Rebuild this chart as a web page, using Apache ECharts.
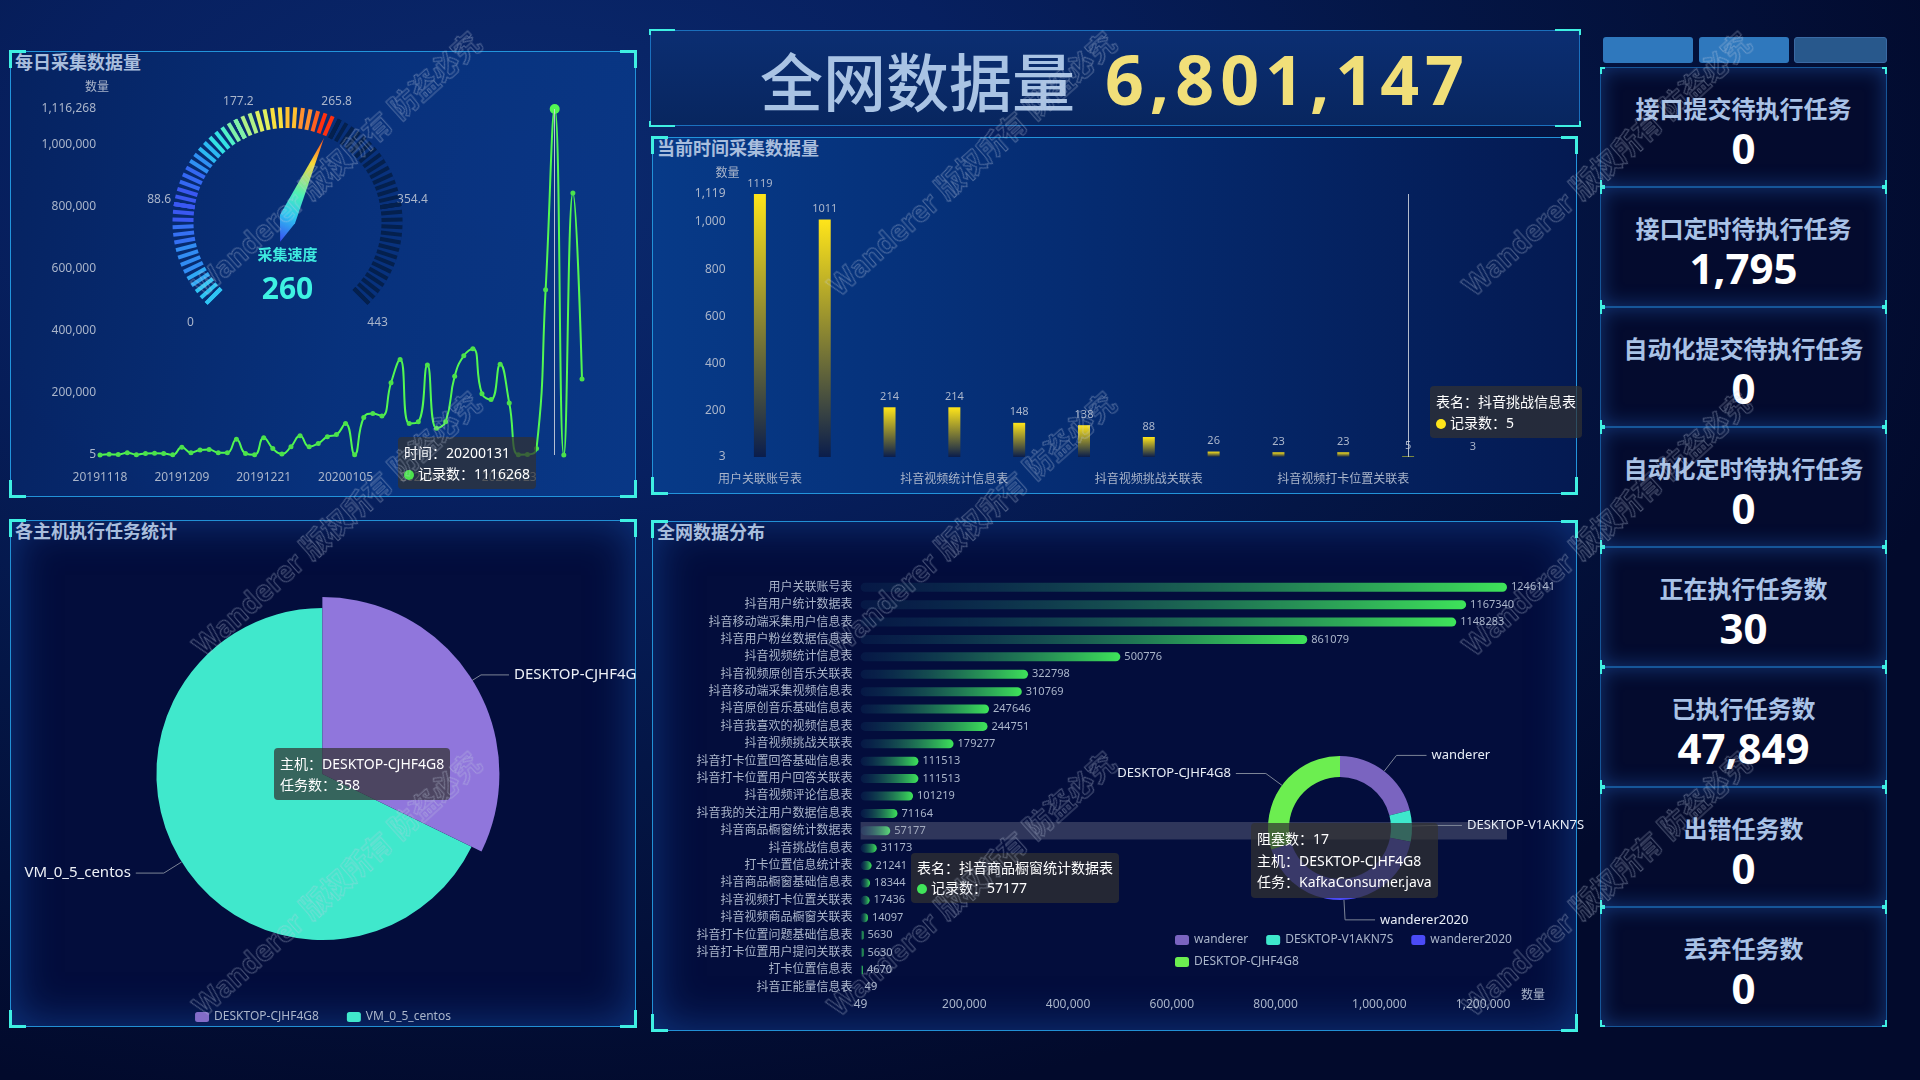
<!DOCTYPE html>
<html lang="zh">
<head>
<meta charset="utf-8">
<title>数据采集大屏</title>
<script src="https://cdn.jsdelivr.net/npm/echarts/dist/echarts.min.js"></script>
<style>
*{box-sizing:border-box;}
html,body{margin:0;padding:0;width:1920px;height:1080px;overflow:hidden;}
body{position:relative;font-family:'Noto Sans','Noto Sans CJK SC',sans-serif;
 background:radial-gradient(ellipse 1500px 950px at 520px 180px,#0b2a6e 0%,#072060 32%,#041646 62%,#020a2c 100%);}
.frame{position:absolute;border:1px solid rgba(38,158,230,0.9);z-index:0;}
.frame>i{position:absolute;width:17px;height:18px;border:0 solid #3ff0e2;}
.frame>.c1{left:-2px;top:-2px;border-left-width:3px;border-top-width:3px;}
.frame>.c2{right:-2px;top:-2px;border-right-width:3px;border-top-width:3px;}
.frame>.c3{left:-2px;bottom:-2px;border-left-width:3px;border-bottom-width:3px;}
.frame>.c4{right:-2px;bottom:-2px;border-right-width:3px;border-bottom-width:3px;}
.ptitle{position:absolute;left:4px;top:-3px;font-size:18px;font-weight:700;color:#a9bedd;font-family:'Noto Sans CJK SC',sans-serif;line-height:24px;z-index:3;}
.p1{background:linear-gradient(100deg,rgba(6,34,96,0.95) 0%,rgba(8,50,126,0.95) 55%,rgba(9,56,136,0.95) 100%);}
.p3{background:linear-gradient(90deg,#073a88 0%,#052c72 45%,#041a52 100%);}
.pb{background:#030d3c;box-shadow:inset 0 0 45px rgba(22,84,175,0.6);}
.chart{position:absolute;z-index:2;}
.tbox{position:absolute;left:650px;top:30px;width:930px;height:96px;border:1px solid rgba(30,125,205,0.85);
 background:linear-gradient(180deg,#0b2e72,#08265f);z-index:0;}
.tbox>i{position:absolute;width:26px;height:6px;border:0 solid #3ff0e2;}
.tbox>.c1{left:-2px;top:-2px;border-left-width:2px;border-top-width:2px;}
.tbox>.c2{right:-2px;top:-2px;border-right-width:2px;border-top-width:2px;}
.tbox>.c3{left:-2px;bottom:-2px;border-left-width:2px;border-bottom-width:2px;}
.tbox>.c4{right:-2px;bottom:-2px;border-right-width:2px;border-bottom-width:2px;}
.bigtitle{position:absolute;left:0;right:0;top:0;bottom:0;display:flex;align-items:center;justify-content:center;}
.bt1{font-size:63px;color:#a9c3e4;font-family:'Noto Sans CJK SC',sans-serif;font-weight:500;}
.bt2{margin-left:30px;font-size:68px;font-weight:700;color:#f1df79;letter-spacing:6px;font-family:'Noto Sans',sans-serif;}
.btn{position:absolute;top:37px;height:26px;border-radius:3px;}
.card{position:absolute;left:1600px;width:287px;height:120px;border:1px solid rgba(28,112,190,0.75);
 background:#040b2e;box-shadow:inset 0 0 20px rgba(40,110,210,0.45);}
.card>i{position:absolute;width:5px;height:7px;border:0 solid #3ff0e2;}
.card>.c1{left:-1px;top:-1px;border-left-width:2px;border-top-width:2px;}
.card>.c2{right:-1px;top:-1px;border-right-width:2px;border-top-width:2px;}
.card>.c3{left:-1px;bottom:-1px;border-left-width:2px;border-bottom-width:2px;}
.card>.c4{right:-1px;bottom:-1px;border-right-width:2px;border-bottom-width:2px;}
.card .t{position:absolute;left:0;right:0;top:26px;text-align:center;font-size:24px;font-weight:700;color:#a9c2e6;line-height:28px;font-family:'Noto Sans CJK SC',sans-serif;}
.card .v{position:absolute;left:0;right:0;top:54px;text-align:center;font-size:42px;font-weight:700;color:#fff;line-height:52px;font-family:'Noto Sans',sans-serif;}
.wm{position:absolute;z-index:10;pointer-events:none;white-space:nowrap;font-size:28px;font-weight:700;color:transparent;
 -webkit-text-stroke:1px rgba(195,205,225,0.38);font-family:'Noto Sans','Noto Sans CJK SC',sans-serif;transform:translate(-50%,-50%) rotate(-42deg);}
</style>
</head>
<body>
<div class="frame p1" style="left:10px;top:51px;width:626px;height:446px"><i class="c1"></i><i class="c2"></i><i class="c3"></i><i class="c4"></i><div class="ptitle">每日采集数据量</div></div>
<div class="tbox"><i class="c1"></i><i class="c2"></i><i class="c3"></i><i class="c4"></i><div class="bigtitle"><span class="bt1">全网数据量</span><span class="bt2" id="total"></span></div></div>
<div class="frame p3" style="left:652px;top:137px;width:925px;height:357px"><i class="c1"></i><i class="c2"></i><i class="c3"></i><i class="c4"></i><div class="ptitle">当前时间采集数据量</div></div>
<div class="frame pb" style="left:10px;top:520px;width:626px;height:507px"><i class="c1"></i><i class="c2"></i><i class="c3"></i><i class="c4"></i><div class="ptitle">各主机执行任务统计</div></div>
<div class="frame pb" style="left:652px;top:521px;width:925px;height:510px"><i class="c1"></i><i class="c2"></i><i class="c3"></i><i class="c4"></i><div class="ptitle">全网数据分布</div></div>

<div class="btn" style="left:1603px;width:90px;background:#2f78bd"></div>
<div class="btn" style="left:1699px;width:90px;background:#2f78bd"></div>
<div class="btn" style="left:1794px;width:93px;background:#28588c;border:1px solid #3a6aa4"></div>
<div id="cards"></div>

<div id="cA" class="chart" style="left:10px;top:51px;width:626px;height:445px"></div>
<div id="cB" class="chart" style="left:652px;top:137px;width:925px;height:357px"></div>
<div id="cC" class="chart" style="left:652px;top:521px;width:925px;height:510px"></div>
<div id="cD" class="chart" style="left:1100px;top:730px;width:500px;height:260px"></div>
<div id="cE" class="chart" style="left:10px;top:520px;width:626px;height:507px"></div>
<div id="wms"></div>

<script>
// ---------- data ----------
const dailyDates = ['20191118','20191119','20191120','20191122','20191125','20191127','20191129','20191202','20191205',
 '20191209','20191210','20191211','20191212','20191213','20191214','20191216','20191217','20191219',
 '20191221','20191222','20191223','20191224','20191225','20191226','20191227','20191228','20191230',
 '20200105','20200106','20200107','20200108','20200109','20200110','20200111','20200112','20200113',
 '20200114','20200115','20200116','20200117','20200118','20200119','20200120','20200121','20200122',
 '20200123','20200124','20200125','20200127','20200129','20200131','20200201','20200202','20200203'];
const dailyCounts = [5,2100,1600,7400,1200,5100,5400,5000,600,
 25000,7600,16000,18000,7500,7600,51000,5000,800,
 56000,21000,3000,27000,62000,27000,37000,59000,66000,
 102000,1100,121000,134000,126000,233000,308000,102000,107000,
 290000,86000,107000,254000,320000,343000,198000,179000,293000,
 168000,1200,1500,21000,533000,1116268,300,845000,245000];
const speedMax = 443;
const speedValue = 260;
const speedName = '采集速度';
const recentTables = ['用户关联账号表','抖音用户统计数据表','抖音移动端采集用户信息表','抖音视频统计信息表','抖音用户粉丝数据信息表','抖音视频原创音乐关联表',
 '抖音视频挑战关联表','抖音原创音乐基础信息表','抖音我喜欢的视频信息表','抖音视频打卡位置关联表','抖音挑战信息表','打卡位置信息统计表'];
const recentCounts = [1119,1011,214,214,148,138,88,26,23,23,5,3];
const allTables = ['用户关联账号表','抖音用户统计数据表','抖音移动端采集用户信息表','抖音用户粉丝数据信息表','抖音视频统计信息表','抖音视频原创音乐关联表',
 '抖音移动端采集视频信息表','抖音原创音乐基础信息表','抖音我喜欢的视频信息表','抖音视频挑战关联表','抖音打卡位置回答基础信息表','抖音打卡位置用户回答关联表',
 '抖音视频评论信息表','抖音我的关注用户数据信息表','抖音商品橱窗统计数据表','抖音挑战信息表','打卡位置信息统计表','抖音商品橱窗基础信息表',
 '抖音视频打卡位置关联表','抖音视频商品橱窗关联表','抖音打卡位置问题基础信息表','抖音打卡位置用户提问关联表','打卡位置信息表','抖音正能量信息表'];
const allCounts = [1246141,1167340,1148283,861079,500776,322798,310769,247646,244751,179277,111513,111513,
 101219,71164,57177,31173,21241,18344,17436,14097,5630,5630,4670,49];
const hostNames = ['DESKTOP-CJHF4G8','VM_0_5_centos'];
const hostTasks = [358,753];
const blockHosts = ['wanderer','DESKTOP-V1AKN7S','wanderer2020','DESKTOP-CJHF4G8'];
const blockCounts = [12,4,24,17];
const blockTasks = ['KafkaConsumer.java','KafkaConsumer.java','KafkaConsumer.java','KafkaConsumer.java'];
const totalRecords = 6801147;
const taskNames = ['接口提交待执行任务','接口定时待执行任务','自动化提交待执行任务','自动化定时待执行任务','正在执行任务数','已执行任务数','出错任务数','丢弃任务数'];
const taskCounts = [0,1795,0,0,30,47849,0,0];
const watermarkText = 'Wanderer 版权所有 防盗必究';

// ---------- html parts ----------
document.getElementById('total').textContent = totalRecords.toLocaleString('en-US');
const cardsEl = document.getElementById('cards');
taskNames.forEach((n, i) => {
  const d = document.createElement('div');
  d.className = 'card';
  d.style.top = (67 + i * 120) + 'px';
  d.innerHTML = '<i class="c1"></i><i class="c2"></i><i class="c3"></i><i class="c4"></i><div class="t"></div><div class="v"></div>';
  d.querySelector('.t').textContent = n;
  d.querySelector('.v').textContent = taskCounts[i].toLocaleString('en-US');
  cardsEl.appendChild(d);
});
const wmEl = document.getElementById('wms');
[336, 971, 1606].forEach(x => [163, 523, 883].forEach(y => {
  const w = document.createElement('div');
  w.className = 'wm'; w.style.left = x + 'px'; w.style.top = y + 'px';
  w.textContent = watermarkText; wmEl.appendChild(w);
}));

// ---------- charts ----------
const FONT = "'Noto Sans','Noto Sans CJK SC',sans-serif";
const LBL = '#aab5ca';
const dot = c => '<span style="display:inline-block;width:10px;height:10px;border-radius:5px;background:' + c + ';margin-right:4px;vertical-align:-1px"></span>';
const tipBase = {
  alwaysShowContent: true, transitionDuration: 0, backgroundColor: 'rgba(50,50,50,0.72)', borderWidth: 0,
  padding: [5, 6], textStyle: {color: '#fff', fontSize: 14, fontFamily: FONT},
  extraCssText: 'box-shadow:none;border-radius:4px;'
};
const G = echarts.graphic;

// Chart A: daily line + gauge
const cA = echarts.init(document.getElementById('cA'));
cA.setOption({
  animation: false,
  textStyle: {fontFamily: FONT},
  tooltip: Object.assign({}, tipBase, {
    trigger: 'axis', position: [388, 386],
    axisPointer: {type: 'line', lineStyle: {color: 'rgba(210,215,225,0.85)', width: 1, type: 'solid'}},
    formatter: p => '<div style="line-height:21px">时间：' + p[0].name + '<br/>' + dot('#4be24b') + '记录数：' + p[0].value + '</div>'
  }),
  grid: {left: 90, right: 54, top: 58, bottom: 41, outerBoundsMode: 'none'},
  xAxis: {type: 'category', data: dailyDates, boundaryGap: false, axisLine: {show: false}, axisTick: {show: false},
    axisLabel: {color: LBL, fontSize: 12, interval: 8, margin: 17}},
  yAxis: {type: 'value', name: '数量', nameGap: 15, nameTextStyle: {color: LBL, fontSize: 12, padding: [0, 6, 0, 0]},
    min: 'dataMin', max: 'dataMax', axisLine: {show: false}, axisTick: {show: false}, splitLine: {show: false},
    axisLabel: {color: LBL, fontSize: 12, margin: 4}},
  series: [{
    type: 'line', data: dailyCounts, smooth: true, symbol: 'circle', symbolSize: 5, showSymbol: true,
    lineStyle: {color: '#4be24b', width: 2}, itemStyle: {color: '#4be24b'}, emphasis: {scale: 2}
  }, {
    type: 'gauge', center: [277.5, 171], radius: 115, min: 0, max: speedMax, splitNumber: 5,
    startAngle: 225, endAngle: -45,
    axisLine: {show: true, lineStyle: {width: 0, color: [
      [0.03, '#2fc4f4'], [0.07, '#2fa8f4'], [0.12, '#318cf3'], [0.17, '#3570f2'], [0.24, '#3a58f1'],
      [0.28, '#3468f2'], [0.31, '#2f90f3'], [0.34, '#2cb8f2'], [0.36, '#34e0e4'], [0.38, '#50f0c8'],
      [0.40, '#80f0a8'], [0.43, '#b0f088'], [0.46, '#e0f060'], [0.49, '#f8e040'], [0.52, '#ffc030'],
      [0.55, '#ff9030'], [0.57, '#ff6020'], [0.588, '#ff3010'], [1, '#04204e']]}},
    splitLine: {show: true, length: 21, distance: 0, lineStyle: {color: 'auto', width: 4}},
    axisTick: {show: true, splitNumber: 14, length: 21, distance: 0, lineStyle: {color: 'auto', width: 4}},
    axisLabel: {distance: -48, color: LBL, fontSize: 12},
    pointer: {icon: 'path://M9.7,0 L17.1,89.8 L10.9,112.8 L0,88.4 Z', width: 17.1, length: 112.8, offsetCenter: [-1.15, 21.1],
      itemStyle: {color: new G.LinearGradient(0, 0, 0, 1, [
        {offset: 0, color: '#ff4a1a'}, {offset: 0.25, color: '#f6d83a'}, {offset: 0.55, color: '#4cf0b8'},
        {offset: 0.75, color: '#2cc8f0'}, {offset: 1, color: '#3a4cf2'}])}},
    anchor: {show: false},
    title: {offsetCenter: [0, 34], color: '#3eeadf', fontSize: 15, fontWeight: 'bold'},
    detail: {offsetCenter: [0, 68], formatter: '{value}', color: '#3ef2e2', fontSize: 30, fontWeight: 'bold'},
    data: [{value: speedValue, name: speedName}]
  }]
});
cA.dispatchAction({type: 'showTip', seriesIndex: 0, dataIndex: 50});

// Chart B: recent bar
const cB = echarts.init(document.getElementById('cB'));
cB.setOption({
  animation: false,
  textStyle: {fontFamily: FONT},
  tooltip: Object.assign({}, tipBase, {
    trigger: 'axis', position: [778, 249],
    axisPointer: {type: 'line', lineStyle: {color: 'rgba(210,215,225,0.85)', width: 1, type: 'solid'}},
    formatter: p => '<div style="line-height:21px">表名：' + p[0].name + '<br/>' + dot('#ffe51a') + '记录数：' + p[0].value + '</div>'
  }),
  grid: {left: 75.5, right: 71.7, top: 57, bottom: 37, outerBoundsMode: 'none'},
  xAxis: {type: 'category', data: recentTables, axisLine: {show: false}, axisTick: {show: false},
    axisLabel: {color: LBL, fontSize: 12, interval: 2, margin: 17}},
  yAxis: {type: 'value', name: '数量', nameGap: 14, nameTextStyle: {color: LBL, fontSize: 12},
    min: 'dataMin', max: 'dataMax', axisLine: {show: false}, axisTick: {show: false}, splitLine: {show: false},
    axisLabel: {color: LBL, fontSize: 12, margin: 2}},
  series: [{
    type: 'bar', data: recentCounts, barWidth: 12,
    itemStyle: {color: new G.LinearGradient(0, 0, 0, 1, [{offset: 0, color: '#ffe51a'}, {offset: 1, color: '#0a1d4c'}])},
    label: {show: true, position: 'top', color: LBL, fontSize: 11, distance: 5}
  }]
});
cB.dispatchAction({type: 'showTip', seriesIndex: 0, dataIndex: 10});

// Chart C: all tables horizontal bar
const cC = echarts.init(document.getElementById('cC'));
cC.setOption({
  animation: false,
  textStyle: {fontFamily: FONT},
  tooltip: Object.assign({}, tipBase, {
    trigger: 'axis', position: [259, 332],
    axisPointer: {type: 'shadow', shadowStyle: {color: 'rgba(150,150,165,0.3)'}},
    formatter: p => '<div style="line-height:20px">表名：' + p[0].name + '<br/>' + dot('#40e55a') + '记录数：' + p[0].value + '</div>'
  }),
  grid: {left: 208.6, right: 70, top: 57.6, bottom: 35, outerBoundsMode: 'none'},
  yAxis: {type: 'category', data: allTables, inverse: true, axisLine: {show: false}, axisTick: {show: false},
    axisLabel: {color: LBL, fontSize: 12, margin: 8, interval: 0}},
  xAxis: {type: 'value', name: '数量', nameGap: 14, nameTextStyle: {color: LBL, fontSize: 12, padding: [8, 0, 0, 0]},
    min: 'dataMin', max: 'dataMax', axisLine: {show: false}, axisTick: {show: false}, splitLine: {show: false},
    axisLabel: {color: LBL, fontSize: 12, margin: 3, showMaxLabel: false}},
  series: [{
    type: 'bar', data: allCounts, barWidth: 9,
    itemStyle: {borderRadius: 5, color: new G.LinearGradient(0, 0, 1, 0, [{offset: 0, color: 'rgba(16,60,100,0.25)'}, {offset: 1, color: '#3ee45a'}])},
    label: {show: true, position: 'right', color: LBL, fontSize: 11, distance: 4}
  }]
});
cC.dispatchAction({type: 'showTip', seriesIndex: 0, dataIndex: 14});

// Chart D: blocking donut
const cD = echarts.init(document.getElementById('cD'));
cD.setOption({
  animation: false,
  textStyle: {fontFamily: FONT},
  color: ['#7a64c0', '#3ee8cc', '#4b4bf7', '#6cee50'],
  tooltip: Object.assign({}, tipBase, {
    trigger: 'item', position: [151, 93],
    formatter: p => '<div style="line-height:21.5px">阻塞数：' + p.value + '<br/>主机：' + p.name + '<br/>任务：' + blockTasks[p.dataIndex] + '</div>'
  }),
  legend: {left: 75, top: 203, width: 360, itemWidth: 14, itemHeight: 10, itemGap: 8, padding: 0, icon: 'roundRect',
    textStyle: {color: LBL, fontSize: 12, padding: [0, 10, 0, 0], lineHeight: 14}},
  series: [{
    type: 'pie', center: [240, 98], radius: [51, 72], startAngle: 90, clockwise: true,
    data: blockHosts.map((n, i) => ({name: n, value: blockCounts[i]})),
    label: {color: '#e8edf6', fontSize: 13, overflow: 'none'},
    labelLine: {length: 20, length2: 30, lineStyle: {color: '#7d8597'}},
    emphasis: {scale: false}
  }]
});
cD.dispatchAction({type: 'showTip', seriesIndex: 0, dataIndex: 3});

// Chart E: host tasks pie
const cE = echarts.init(document.getElementById('cE'));
cE.setOption({
  animation: false,
  textStyle: {fontFamily: FONT},
  color: ['#836cc8', '#40e8cc'],
  tooltip: Object.assign({}, tipBase, {
    trigger: 'item', position: [264, 228],
    formatter: p => '<div style="line-height:21px">主机：' + p.name + '<br/>任务数：' + p.value + '</div>'
  }),
  legend: {bottom: 4, left: 'center', itemWidth: 14, itemHeight: 10, itemGap: 28, padding: 0, icon: 'roundRect',
    textStyle: {color: LBL, fontSize: 12}},
  series: [{
    type: 'pie', center: [312.4, 254], radius: 166, startAngle: 90, clockwise: true,
    data: hostNames.map((n, i) => ({name: n, value: hostTasks[i]})),
    label: {color: '#eef1f7', fontSize: 15, overflow: 'none'},
    labelLine: {length: 21, length2: 28, lineStyle: {color: '#7d8597'}},
    emphasis: {scale: true, scaleSize: 11, label: {fontWeight: 'normal'}}
  }]
});
cE.dispatchAction({type: 'highlight', seriesIndex: 0, dataIndex: 0});
cE.dispatchAction({type: 'showTip', seriesIndex: 0, dataIndex: 0});
</script>
</body>
</html>
